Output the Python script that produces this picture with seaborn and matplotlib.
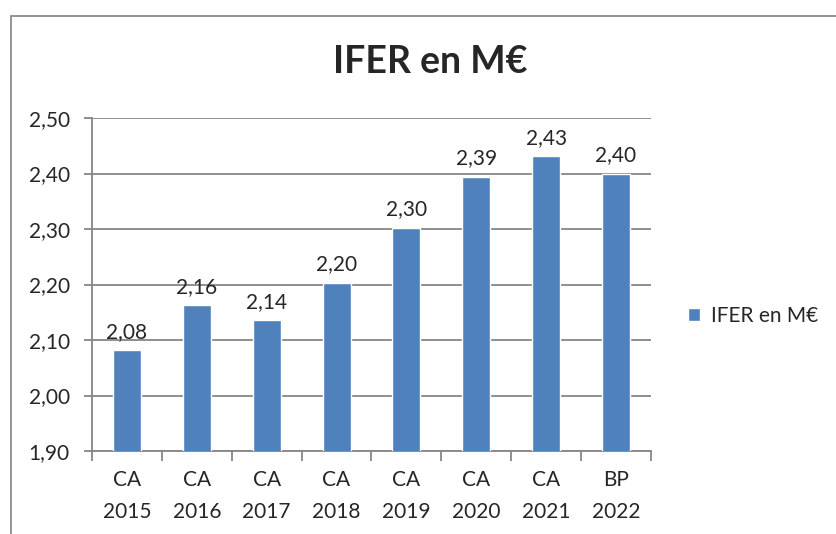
import numpy as np
import pandas as pd
import seaborn as sns
import matplotlib.pyplot as plt
from matplotlib.patches import Rectangle
from matplotlib.ticker import FixedLocator, FuncFormatter

categories = ["CA\n2015", "CA\n2016", "CA\n2017", "CA\n2018", "CA\n2019", "CA\n2020", "CA\n2021", "BP\n2022"]
values = [2.082, 2.163, 2.136, 2.203, 2.302, 2.394, 2.431, 2.400]
series_name = "IFER en M€"

sns.set_style("white")
plt.rcParams['font.family'] = ['Lato', 'DejaVu Sans']

df = pd.DataFrame({"cat": categories, "val": values})
blue = "#4F81BD"
grey = "#868686"

fig = plt.figure(figsize=(8.37, 5.34), dpi=100)
ax = fig.add_axes([92/837, 1-451/534, (651-92)/837, (451-118)/534])

sns.barplot(data=df, x="cat", y="val", color=blue, width=0.4, ax=ax,
            saturation=1, label=series_name, zorder=3)

ax.set_ylim(1.9, 2.5)
ax.set_xlim(-0.5, len(categories)-0.5)
ax.set_yticks(np.arange(1.9, 2.501, 0.1))
ax.yaxis.set_major_formatter(FuncFormatter(lambda v, p: f"{v:.2f}".replace(".", ",")))
ax.yaxis.grid(True, color=grey, linewidth=1.3, zorder=0)
ax.set_axisbelow(True)
ax.tick_params(axis='y', which='major', length=6, width=1.3, color=grey, labelsize=15, pad=10, left=True)
ax.tick_params(axis='x', which='major', length=0, labelsize=15, pad=14)
ax.xaxis.set_minor_locator(FixedLocator(np.arange(-0.5, len(categories), 1.0)))
ax.tick_params(axis='x', which='minor', length=7, width=1.3, color=grey, bottom=True)
for lbl in ax.get_xticklabels():
    lbl.set_linespacing(1.7)
ax.set_xlabel("")
ax.set_ylabel("")
for s in ["top", "right"]:
    ax.spines[s].set_visible(False)
for s in ["left", "bottom"]:
    ax.spines[s].set_color(grey)
    ax.spines[s].set_linewidth(1.3)

for i, v in enumerate(values):
    ax.annotate(f"{v:.2f}".replace(".", ","), (i, v), xytext=(0, 6),
                textcoords="offset points", ha="center", va="bottom", fontsize=15)

fig.text(430/837, 1-62/534, "IFER en M€", ha="center", va="center",
         fontsize=27, fontweight="bold")

ax.legend(loc="center left", bbox_to_anchor=(669/837, 1-316/534),
          bbox_transform=fig.transFigure, frameon=False, fontsize=15,
          handlelength=0.6, handleheight=0.6, handletextpad=0.5)

fig.patches.append(Rectangle((11/837, -0.1), 1.0, 1-16/534+0.1, transform=fig.transFigure,
                             fill=False, edgecolor="#8c8c8c", linewidth=1.3))

fig.savefig("out.png", dpi=100)
